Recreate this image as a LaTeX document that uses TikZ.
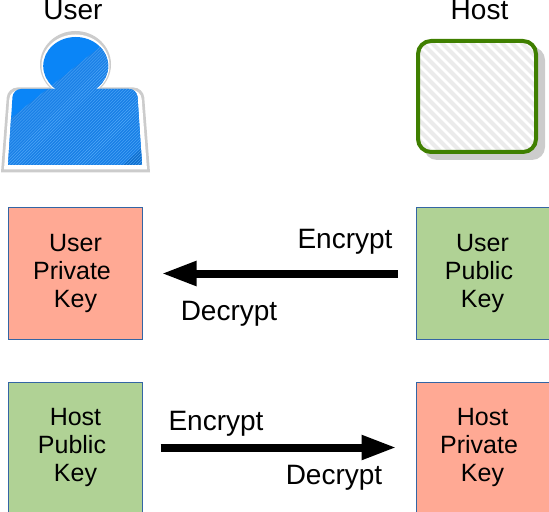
\documentclass[tikz,border=0pt]{standalone}
\usepackage{fontspec}
\setmainfont{Liberation Sans}
\usetikzlibrary{positioning,arrows.meta,patterns}

\definecolor{privatered}{HTML}{FFA994}
\definecolor{publicgreen}{HTML}{B0D295}
\definecolor{boxedge}{HTML}{3465A4}
\definecolor{hostgreen}{HTML}{3F7F00}
\definecolor{userblue}{HTML}{0A85F7}
\definecolor{userhatch}{HTML}{1A80E6}
\definecolor{userdark}{HTML}{1070CE}

\tikzset{
	keybox/.style={draw=boxedge, line width=1bp, minimum width=133bp, minimum height=131bp,
		inner sep=0pt, align=center, font=\fontsize{25bp}{28bp}\selectfont},
	privatekey/.style={keybox, fill=privatered},
	publickey/.style={keybox, fill=publicgreen},
	keyarrow/.style={line width=8bp, -{Triangle[length=35bp,width=23bp]}, shorten >=19bp, shorten <=18bp},
	caption/.style={anchor=base, inner sep=0pt, font=\fontsize{28bp}{30bp}\selectfont}
}

\begin{document}
\begin{tikzpicture}[x=1bp, y=-1bp]
	\useasboundingbox (0,0) rectangle (549,512);

	% the two parties
	\node[caption] (user) at (73,20) {User};
	\node[caption] (host) at (479.5,20) {Host};

	% user figure
	\fill[black!20] (75.5,64.5) ellipse [x radius=35.5, y radius=33.5];
	\fill[black!20] (1,172.5) {[rounded corners=10bp] -- (7.5,87.5) -- (143.5,87.5)} -- (150,172.5) -- cycle;
	\fill[white] (75.5,65.5) ellipse [x radius=34, y radius=31];
	\fill[white] (4,169.5) {[rounded corners=9bp] -- (10,90) -- (141,90)} -- (147,169.5) -- cycle;
	\begin{scope}
		\clip (75.7,66) ellipse [x radius=32.5, y radius=29]
			(8,165) {[rounded corners=8bp] -- (13,89) -- (137,89)} -- (142,165) -- cycle;
		\fill[userblue] (0,30) rectangle (150,170);
		\fill[userhatch] (0,127) -- (115,35) -- (150,35) -- (150,170) -- (0,170) -- cycle;
		\fill[userdark] (118,170) -- (150,140) -- (150,170) -- cycle;
		\fill[pattern=north east lines, pattern color=userblue!70!white] (0,127) -- (115,35) -- (150,35) -- (150,170) -- (0,170) -- cycle;
	\end{scope}

	% host figure
	\fill[black!20, rounded corners=13bp] (424,47) rectangle (545,160);
	\begin{scope}
		\clip[rounded corners=13bp] (418,41) rectangle (536,152);
		\fill[white] (418,41) rectangle (536,152);
		\foreach \i in {0,...,26}
			\draw[black!8, line width=4bp] (300+10*\i,41) -- ++(111,111);
	\end{scope}
	\draw[hostgreen, line width=4bp, rounded corners=13bp] (418,41) rectangle (536,152);

	% key boxes
	\node[privatekey] (userprivate) at (75.5,273.5) {User\\Private\kern7bp\\Key};
	\node[publickey, right=273bp of userprivate] (userpublic) {User\\Public\kern7bp\\Key};
	\node[publickey, below=42bp of userprivate] (hostpublic) {Host\\Public\kern7bp\\Key};
	\node[privatekey, right=273bp of hostpublic] (hostprivate) {Host\\Private\kern7bp\\Key};

	\draw[keyarrow] (userpublic) -- (userprivate);
	\draw[keyarrow] (hostpublic) -- (hostprivate);

	\node[caption] (encryptuser) at (345,248) {Encrypt};
	\node[caption] (decryptuser) at (229,320) {Decrypt};
	\node[caption] (encrypthost) at (216,430) {Encrypt};
	\node[caption] (decrypthost) at (334,484) {Decrypt};
\end{tikzpicture}
\end{document}
